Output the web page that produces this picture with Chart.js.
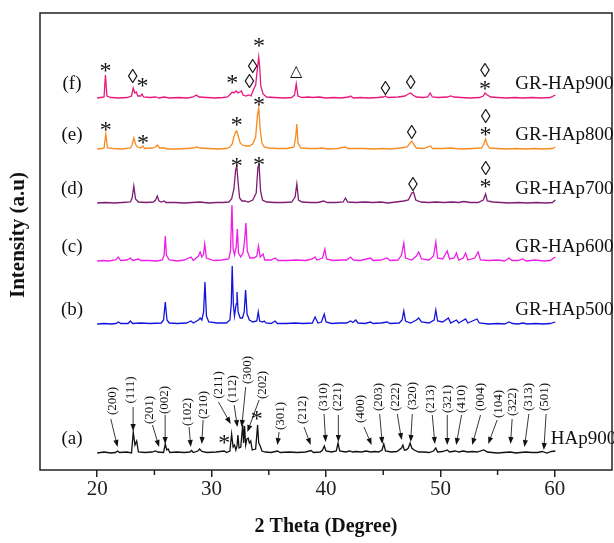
<!DOCTYPE html>
<html>
<head>
<meta charset="utf-8">
<title>XRD patterns</title>
<script src="https://cdn.jsdelivr.net/npm/chart.js"></script>
<style>
  body { margin: 0; background: #fff; }
  canvas { display: block; }
</style>
</head>
<body>
<canvas id="xrd" width="614" height="543"></canvas>
<script>
// [2theta, relative intensity]
const hap900 = [[20.0,0],[20.6,1],[21.2,0],[21.6,0.5],[21.78,2],[21.95,0.5],[22.6,1],[23.0,0],[23.15,21],[23.3,8],[23.45,12],[23.6,1],[24.2,0.5],[24.8,1],[25.1,2],[25.3,1],[25.8,0.5],[25.95,9],[26.08,3],[26.2,4],[26.35,0.5],[27.0,1],[27.6,0.5],[28.1,1],[28.25,2.5],[28.4,0.5],[28.8,2],[28.95,4],[29.15,1.5],[29.6,0.5],[30.4,1],[31.1,2],[31.3,0.5],[31.6,2],[31.75,19],[31.88,6],[32.0,8],[32.12,3],[32.22,7],[32.3,18],[32.4,5],[32.55,6],[32.72,28],[32.8,10],[32.88,27],[32.98,8],[33.08,14],[33.2,15],[33.3,10],[33.42,12],[33.55,3],[33.85,4],[34.02,28],[34.12,10],[34.25,7],[34.4,2],[34.7,1],[35.2,0.5],[35.75,2],[36.0,0.5],[36.8,1],[37.5,0.5],[38.2,1],[38.7,2.5],[38.9,0.5],[39.5,1],[39.7,3],[39.85,7],[40.0,2],[40.5,1],[40.9,2],[41.05,10],[41.2,2],[41.7,1],[42.1,2],[42.3,1],[42.6,1.5],[43.1,1],[43.5,2],[43.9,1],[44.3,1.5],[44.6,1],[44.9,3],[45.05,9],[45.2,2],[45.7,1],[46.2,1.5],[46.6,5],[46.72,8],[46.85,3],[47.0,3],[47.2,5],[47.35,10],[47.5,5],[47.7,3],[48.1,1],[48.6,1],[49.0,0.5],[49.4,2],[49.6,5],[49.75,1],[50.2,1.5],[50.6,3],[50.8,1],[51.3,2],[51.6,1],[52.0,2],[52.4,1],[52.8,1.5],[53.2,1],[53.8,3],[54.1,1],[54.5,0.5],[55.0,0],[55.5,0.5],[56.1,1],[56.6,0],[57.0,0.5],[57.45,1],[58.0,0.5],[58.5,0.5],[58.9,1.5],[59.3,0],[59.7,1.5],[60.05,2]];
const grHap500 = [[20.0,0],[20.6,0.5],[21.2,0],[21.65,0.5],[21.85,2],[22.05,0.5],[22.7,0.5],[22.9,3],[23.1,0.5],[23.8,1],[24.6,0.5],[25.6,1],[25.8,4],[25.95,22],[26.1,4],[26.3,1],[27.0,0.5],[27.8,1],[28.2,3],[28.4,1],[28.85,4],[29.0,6],[29.15,4],[29.3,12],[29.42,42],[29.55,8],[29.75,2],[30.5,1],[31.3,1],[31.6,4],[31.72,20],[31.8,58],[31.9,20],[32.0,8],[32.15,20],[32.22,32],[32.32,12],[32.5,6],[32.7,6],[32.85,12],[32.97,34],[33.1,10],[33.3,4],[33.6,2],[33.95,3],[34.08,12],[34.2,3],[34.45,2],[34.6,3],[34.75,1],[35.2,0.5],[35.55,3],[35.75,0.5],[36.5,0.5],[37.3,1],[38.0,0.5],[38.8,1],[39.05,7],[39.3,1],[39.6,2],[39.85,10],[40.0,2],[40.5,0.5],[41.2,1],[41.8,1],[42.15,3],[42.35,1.5],[42.6,4],[42.8,1],[43.4,0.5],[43.9,2],[44.1,0.5],[44.8,1],[45.35,2],[45.6,0.5],[46.4,1],[46.65,4],[46.8,13],[46.95,3],[47.4,1],[47.9,4],[48.1,6],[48.35,2],[49.0,1],[49.45,4],[49.6,14],[49.75,3],[50.2,2],[50.7,6],[50.9,1],[51.4,4],[51.6,1],[52.2,5],[52.4,1],[53.2,5],[53.4,1],[54.2,0],[55.0,0.5],[55.6,0],[56.0,2],[56.3,0.5],[56.8,0],[57.2,1],[57.6,0],[58.3,0.5],[59.0,0],[59.6,0.5],[60.05,2]];
const grHap600 = [[20.0,0],[20.5,0.5],[21.0,0],[21.6,1],[21.85,4],[22.05,0.5],[22.6,1],[22.9,3],[23.1,0.5],[23.6,2],[23.8,0.5],[24.5,0.5],[25.2,0],[25.7,1],[25.85,6],[25.95,25],[26.05,6],[26.3,1],[27.0,0],[27.6,1],[28.2,4],[28.4,0.5],[28.85,5],[29.0,9],[29.15,4],[29.3,7],[29.4,17],[29.55,3],[30.2,0.5],[30.9,1],[31.5,2],[31.65,10],[31.78,56],[31.88,12],[32.0,6],[32.15,14],[32.25,32],[32.35,8],[32.55,4],[32.75,8],[32.88,20],[33.0,38],[33.12,10],[33.35,3],[33.7,3],[33.95,5],[34.1,15],[34.25,4],[34.5,7],[34.65,1],[35.2,1],[35.55,3],[35.8,0.5],[36.6,0.5],[37.4,1],[38.2,0.5],[38.8,2],[39.05,4],[39.2,1],[39.7,3],[39.9,12],[40.05,2],[40.6,0.5],[41.3,1],[41.8,1],[42.15,4],[42.4,1],[43.0,0.5],[43.9,3],[44.1,0.5],[44.8,1],[45.35,3],[45.6,0.5],[46.3,1],[46.6,6],[46.8,18],[46.95,3],[47.5,1],[47.9,5],[48.1,9],[48.35,2],[49.0,1],[49.4,5],[49.6,19],[49.75,3],[50.2,2],[50.6,10],[50.8,2],[51.2,3],[51.4,8],[51.6,1],[52.0,3],[52.2,8],[52.4,1],[53.0,3],[53.3,9],[53.5,1],[54.2,0.5],[55.0,1],[55.6,0],[56.0,3],[56.25,0.5],[56.8,0.5],[57.2,2],[57.5,0],[58.3,1],[59.0,0],[59.6,0.5],[60.05,4]];
const grHap700 = [[20.0,0],[20.7,0.5],[21.5,0],[22.2,0.5],[22.9,1],[23.05,5],[23.2,17],[23.35,4],[23.6,1],[24.3,0.5],[24.9,1],[25.1,3],[25.25,7],[25.4,2],[25.6,1],[25.85,2],[26.0,0.5],[26.8,0.5],[27.6,0],[28.3,0.5],[29.0,1],[29.7,0],[30.4,0.5],[31.0,0.5],[31.5,1],[31.75,4],[31.95,14],[32.1,33],[32.2,37],[32.32,20],[32.45,5],[32.65,2],[32.9,2],[33.2,1],[33.6,3],[33.9,10],[34.05,36],[34.15,38],[34.28,12],[34.45,3],[34.8,1],[35.5,0.5],[36.3,0.5],[37.0,1],[37.3,6],[37.45,19],[37.6,3],[37.9,1],[38.6,0.5],[39.3,0.5],[39.8,2],[40.1,0.5],[40.9,0.5],[41.5,1],[41.7,5],[41.9,1],[42.6,0.5],[43.4,1],[44.1,0.5],[44.8,1],[45.4,0],[46.1,1],[46.8,2],[47.2,3],[47.5,10],[47.65,11],[47.85,3],[48.3,1],[49.0,0.5],[49.6,1],[50.3,0.5],[51.0,1],[51.6,0.5],[52.05,1.5],[52.6,0.5],[53.3,0.5],[53.75,3],[53.95,9],[54.1,2],[54.6,1],[55.3,0.5],[56.0,0],[56.8,0.5],[57.6,0],[58.4,0.5],[59.2,0],[59.8,0.5],[60.05,3]];
const grHap800 = [[20.0,0],[20.4,0.5],[20.6,1],[20.75,15],[20.9,1],[21.4,0.5],[22.2,0],[22.9,1],[23.05,4],[23.2,11],[23.35,5],[23.5,2],[23.8,1],[24.0,3],[24.15,0.5],[24.8,1],[25.1,2],[25.25,4],[25.45,1],[25.85,1],[26.2,0],[27.0,0],[27.8,0.5],[28.4,1],[28.7,2],[29.0,1],[29.8,0.5],[30.6,0],[31.3,0.5],[31.6,2],[31.8,5],[31.95,12],[32.1,17],[32.2,18],[32.35,12],[32.5,6],[32.7,4],[33.0,3],[33.3,3],[33.6,5],[33.85,12],[34.0,33],[34.12,41],[34.25,19],[34.4,6],[34.6,2],[35.0,1],[35.8,0.5],[36.6,0.5],[37.2,2],[37.35,12],[37.45,25],[37.55,6],[37.8,1],[38.6,0.5],[39.3,0.5],[39.6,1],[40.2,0],[41.0,0.5],[41.7,2],[41.9,0.5],[42.6,0.5],[43.4,0.5],[44.1,0],[44.9,0.5],[45.6,0],[46.5,1],[47.1,2],[47.35,6],[47.5,8],[47.65,5],[47.9,1],[48.5,0.5],[49.15,3],[49.3,0.5],[50.2,0.5],[50.9,1],[51.3,0.5],[52.0,0],[52.8,0.5],[53.6,1],[53.8,5],[53.95,10],[54.1,4],[54.3,1],[55.0,0.5],[55.8,0],[56.6,0.5],[57.4,0],[58.2,0.5],[59.0,0],[59.8,0.5],[60.05,2]];
const grHap900 = [[20.0,0],[20.3,0.5],[20.6,1],[20.72,23],[20.85,2],[21.2,0.5],[21.9,0],[22.6,0.5],[23.0,2],[23.15,10],[23.28,5],[23.42,6],[23.55,2],[23.8,2],[23.92,4],[24.05,1],[24.6,0.5],[25.1,1],[25.4,0],[25.85,1],[26.3,0],[27.1,0.5],[27.9,0],[28.4,1],[28.65,3],[28.9,1],[29.6,0.5],[30.3,0],[31.0,0.5],[31.4,1],[31.65,4],[31.8,6],[31.95,5],[32.15,7],[32.3,5],[32.45,6],[32.6,7],[32.75,3],[33.0,2],[33.25,3],[33.45,2],[33.65,8],[33.85,13],[34.0,29],[34.12,41],[34.2,31],[34.3,12],[34.5,4],[34.8,1],[35.5,0.5],[36.3,0],[37.0,0.5],[37.25,3],[37.4,14],[37.55,2],[37.9,0.5],[38.5,1],[38.8,0.5],[39.4,1],[40.0,0],[40.7,0.5],[41.3,0],[42.0,1],[42.15,2],[42.4,0],[43.0,0.5],[43.7,0],[44.5,0.5],[45.0,1],[45.2,2],[45.4,0.5],[46.3,1],[46.9,2],[47.2,4],[47.4,5],[47.6,3],[47.9,1],[48.5,0.5],[48.9,1],[49.1,5],[49.3,1],[49.8,0.5],[50.6,1],[50.9,2],[51.2,1],[51.8,0.5],[52.6,0],[53.4,0.5],[53.75,2],[53.9,5],[54.1,3],[54.4,1],[55.0,0.5],[55.8,0],[56.5,0.5],[57.2,0],[58.0,0.5],[58.8,0],[59.6,0.5],[60.05,3]];

const patterns = [hap900, grHap500, grHap600, grHap700, grHap800, grHap900];
const names = ['HAp900', 'GR-HAp500', 'GR-HAp600', 'GR-HAp700', 'GR-HAp800', 'GR-HAp900'];
const tags = ['(a)', '(b)', '(c)', '(d)', '(e)', '(f)'];
const offsets = [17, 146, 209, 267, 321, 372];   // vertical stacking of the patterns
const colors = ['#111111', '#1414dc', '#ee1ee6', '#7d1c73', '#f68b1f', '#e8177c'];

const majorTicks = [20, 30, 40, 50, 60];
const minorTicks = [25, 35, 45, 55];

// hkl labels on HAp900: [text, label x, label height, arrow from x, from h, to x, to h]
const hkl = [
  ['(200)', 21.34, 52, 21.19, 34, 21.78, 6],
  ['(111)', 22.94, 63, 23.14, 46, 23.14, 22],
  ['(201)', 24.60, 43, 24.83, 28, 25.41, 6],
  ['(002)', 25.85, 53, 25.94, 38, 25.94, 9],
  ['(102)', 27.89, 41, 28.03, 26, 28.18, 6],
  ['(210)', 29.26, 48, 29.26, 33, 29.14, 9],
  ['(211)', 30.60, 68, 30.60, 51, 31.67, 29],
  ['(112)', 31.82, 64, 31.97, 48, 32.26, 26],
  ['(300)', 33.13, 83, 32.98, 66, 32.63, 26],
  ['(202)', 34.44, 68, 34.15, 53, 33.13, 21],
  ['(301)', 36.04, 37, 35.90, 21, 35.75, 8],
  ['(212)', 37.93, 43, 38.08, 26, 38.66, 8],
  ['(310)', 39.83, 56, 39.83, 39, 39.97, 11],
  ['(221)', 40.99, 56, 41.08, 38, 41.08, 11],
  ['(400)', 43.03, 44, 43.32, 26, 43.99, 8],
  ['(203)', 44.57, 56, 44.69, 39, 44.92, 9],
  ['(222)', 46.08, 56, 46.23, 39, 46.61, 13],
  ['(320)', 47.54, 57, 47.54, 39, 47.40, 11],
  ['(213)', 49.14, 54, 49.29, 38, 49.52, 9],
  ['(321)', 50.60, 54, 50.60, 38, 50.60, 8],
  ['(410)', 51.85, 54, 51.85, 38, 51.38, 8],
  ['(004)', 53.51, 56, 53.51, 38, 52.78, 8],
  ['(104)', 55.05, 49, 54.96, 33, 54.18, 9],
  ['(322)', 56.27, 51, 56.27, 34, 56.13, 9],
  ['(313)', 57.73, 56, 57.73, 39, 57.35, 6],
  ['(501)', 59.13, 56, 59.24, 39, 59.04, 3]
];

// phase markers: [pattern index, symbol, 2theta, height above baseline]
const marks = [
  [0, '*', 31.1, 14], [0, '*', 33.95, 38],
  [3, '*', 32.2, 41], [3, '*', 34.15, 42], [3, '◊', 47.6, 19], [3, '◊', 53.95, 35], [3, '*', 53.95, 20],
  [4, '*', 20.75, 23], [4, '*', 24.0, 10], [4, '*', 32.2, 28], [4, '*', 34.15, 48], [4, '◊', 47.5, 17], [4, '◊', 53.95, 33], [4, '*', 53.95, 18],
  [5, '*', 20.72, 31], [5, '◊', 23.1, 22], [5, '*', 23.95, 16], [5, '*', 31.8, 19], [5, '◊', 33.3, 17], [5, '◊', 33.6, 32],
  [5, '*', 34.15, 56], [5, '△', 37.4, 28], [5, '◊', 45.2, 10], [5, '◊', 47.4, 16], [5, '◊', 53.9, 28], [5, '*', 53.9, 13]
];

const serif = '"Liberation Serif", "Times New Roman", serif';

function arrow(ctx, x1, y1, x2, y2) {
  const ang = Math.atan2(y2 - y1, x2 - x1);
  const len = 7, half = 2.6;
  ctx.beginPath();
  ctx.moveTo(x1, y1);
  ctx.lineTo(x2 - Math.cos(ang) * len, y2 - Math.sin(ang) * len);
  ctx.stroke();
  ctx.beginPath();
  ctx.moveTo(x2, y2);
  ctx.lineTo(x2 - Math.cos(ang) * len - Math.sin(ang) * half, y2 - Math.sin(ang) * len + Math.cos(ang) * half);
  ctx.lineTo(x2 - Math.cos(ang) * len + Math.sin(ang) * half, y2 - Math.sin(ang) * len - Math.cos(ang) * half);
  ctx.closePath();
  ctx.fill();
}

const annotations = {
  id: 'annotations',
  afterDatasetsDraw(chart) {
    const { ctx, chartArea: area, scales: { x, y } } = chart;
    const px = v => x.getPixelForValue(v);
    const py = (i, h) => y.getPixelForValue(offsets[i] + h);
    ctx.save();
    ctx.fillStyle = '#111';
    ctx.strokeStyle = '#222';

    // frame and minor ticks
    ctx.lineWidth = 1.5;
    ctx.strokeRect(area.left, area.top, area.right - area.left, area.bottom - area.top);
    ctx.beginPath();
    minorTicks.forEach(v => { ctx.moveTo(px(v), area.bottom); ctx.lineTo(px(v), area.bottom + 5); });
    ctx.stroke();

    // y title
    ctx.save();
    ctx.translate(19, 235);
    ctx.rotate(-Math.PI / 2);
    ctx.font = 'bold 21px ' + serif;
    ctx.textAlign = 'center';
    ctx.textBaseline = 'middle';
    ctx.fillText('Intensity (a.u)', 0, 0);
    ctx.restore();

    // pattern tags and names
    ctx.textBaseline = 'middle';
    ctx.font = '19px ' + serif;
    tags.forEach((t, i) => {
      ctx.textAlign = 'center';
      ctx.fillText(t, px(17.8), py(i, 14));
      ctx.textAlign = 'left';
      ctx.fillText(names[i], i === 0 ? px(59.65) : px(56.55), py(i, 14));
    });

    // hkl labels with arrows
    ctx.lineWidth = 0.9;
    hkl.forEach(([t, lx, lh, fx, fh, tx, th]) => {
      ctx.save();
      ctx.translate(px(lx), py(0, lh));
      ctx.rotate(-Math.PI / 2);
      ctx.font = '13px ' + serif;
      ctx.textAlign = 'center';
      ctx.textBaseline = 'middle';
      ctx.fillText(t, 0, 0);
      ctx.restore();
      arrow(ctx, px(fx), py(0, fh), px(tx), py(0, th));
    });

    // phase markers
    ctx.textAlign = 'center';
    ctx.textBaseline = 'alphabetic';
    marks.forEach(([i, s, mx, mh]) => {
      const cx = px(mx), cy = py(i, mh);
      if (s === '*') { ctx.font = '24px ' + serif; ctx.fillText(s, cx, cy + 11); }
      else if (s === '◊') { ctx.font = '20px ' + serif; ctx.fillText(s, cx, cy + 7); }
      else { ctx.font = '16px "DejaVu Sans"'; ctx.fillText(s, cx, cy + 6); }
    });
    ctx.restore();
  }
};

new Chart(document.getElementById('xrd'), {
  type: 'line',
  data: {
    datasets: patterns.map((p, i) => ({
      label: names[i],
      data: p.map(([t, v]) => ({ x: t, y: v + offsets[i] })),
      borderColor: colors[i],
      borderWidth: 1.3,
      pointRadius: 0,
      tension: 0,
      fill: false
    }))
  },
  options: {
    responsive: false,
    animation: false,
    layout: { padding: { left: 40, top: 13, right: 2, bottom: 0 } },
    plugins: { legend: { display: false }, tooltip: { enabled: false } },
    scales: {
      x: {
        type: 'linear',
        min: 15,
        max: 65,
        afterBuildTicks: s => { s.ticks = majorTicks.map(v => ({ value: v })); },
        afterFit: s => { s.height = 73; },
        border: { display: false },
        grid: { drawOnChartArea: false, drawTicks: true, tickLength: 7, color: '#222', lineWidth: 1.5 },
        ticks: { font: { family: serif, size: 21 }, color: '#222', padding: 0, maxRotation: 0 },
        title: { display: true, text: '2 Theta (Degree)', color: '#111',
                 font: { family: serif, size: 20, weight: 'bold' }, padding: { top: 0, bottom: 4 } }
      },
      y: { display: false, min: 0, max: 457 }
    }
  },
  plugins: [annotations]
});
</script>
</body>
</html>
